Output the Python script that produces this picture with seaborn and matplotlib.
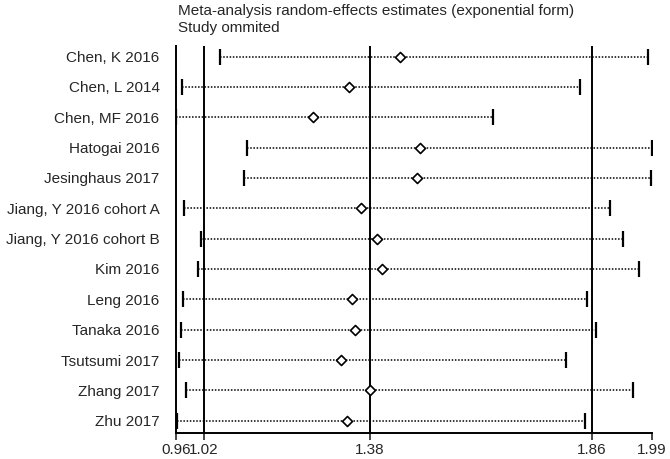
import numpy as np
import pandas as pd
import seaborn as sns
import matplotlib
matplotlib.use('Agg')
import matplotlib.pyplot as plt

# studies omitted in turn, with the pooled estimate and 95% CI after omission
studies = ['Chen, K 2016', 'Chen, L 2014', 'Chen, MF 2016', 'Hatogai 2016',
           'Jesinghaus 2017', 'Jiang, Y 2016 cohort A', 'Jiang, Y 2016 cohort B',
           'Kim 2016', 'Leng 2016', 'Tanaka 2016', 'Tsutsumi 2017',
           'Zhang 2017', 'Zhu 2017']
estimate = [1.445, 1.334, 1.256, 1.488, 1.481, 1.360, 1.395,
            1.405, 1.340, 1.347, 1.317, 1.379, 1.330]
lower = [1.055, 0.972, 0.960, 1.114, 1.107, 0.977, 1.013,
         1.008, 0.974, 0.970, 0.965, 0.982, 0.962]
upper = [1.982, 1.834, 1.646, 1.990, 1.988, 1.899, 1.927,
         1.962, 1.849, 1.869, 1.804, 1.948, 1.845]
ref_lines = [1.02, 1.38, 1.86]
xticks = [0.96, 1.02, 1.38, 1.86, 1.99]

df = pd.DataFrame({'Study': studies, 'Estimate': estimate,
                   'Lower': lower, 'Upper': upper})

sns.set_style('white')
plt.rcParams['font.family'] = ['Liberation Sans', 'DejaVu Sans']
plt.rcParams['font.size'] = 11

fig = plt.figure(figsize=(6.7, 4.59), dpi=100)
ax = fig.add_axes([0.263, 0.057, 0.710, 0.843])

# dotted CI lines
ax.hlines(df['Study'], df['Lower'], df['Upper'], color='black',
          linewidth=1.1, linestyles=(0, (1, 1.1)), zorder=2)
# end caps
for col in ['Lower', 'Upper']:
    sns.scatterplot(data=df, x=col, y='Study', marker='|', s=120,
                    color='black', linewidth=1.6, ax=ax, zorder=3)
# point estimates
sns.scatterplot(data=df, x='Estimate', y='Study', marker='D', s=26,
                facecolor='white', edgecolor='black', linewidth=1.2,
                ax=ax, zorder=4)

for v in ref_lines:
    ax.axvline(v, color='black', linewidth=1.4, zorder=1)

ax.set_xlim(0.96, 1.99)
ax.set_ylim(len(studies) - 0.6, -0.35)
ax.set_xticks(xticks)
ax.set_xticklabels([f'{t:.2f}' for t in xticks])
ax.set_xlabel('')
ax.set_ylabel('')
sns.despine(ax=ax, top=True, right=True)
ax.spines['left'].set_linewidth(1.4)
ax.spines['bottom'].set_linewidth(1.4)
ax.spines['left'].set_color('black')
ax.spines['bottom'].set_color('black')
ax.tick_params(axis='y', length=0, pad=12, labelsize=11)
ax.tick_params(axis='x', length=5, width=1.2, pad=2, labelsize=11,
               direction='out', bottom=True)
ax.grid(False)

fig.text(0.266, 0.976, 'Meta-analysis random-effects estimates (exponential form)',
         ha='left', va='center', fontsize=11)
fig.text(0.266, 0.939, 'Study ommited', ha='left', va='center', fontsize=11)

plt.savefig('out.png', dpi=100)
